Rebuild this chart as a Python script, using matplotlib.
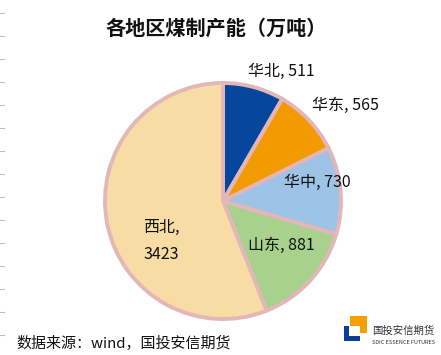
import matplotlib
matplotlib.use("Agg")
import matplotlib.pyplot as plt
from matplotlib.patches import Rectangle
from matplotlib.lines import Line2D

plt.rcParams['font.family'] = ['Noto Sans CJK SC', 'DejaVu Sans']

regions = ["华北", "华东", "华中", "山东", "西北"]
capacity = [511, 565, 730, 881, 3423]
colors = ["#06469C", "#F39A00", "#9DC3E6", "#A9D18E", "#F8DCA6"]

W, H = 441, 355
fig = plt.figure(figsize=(W / 100, H / 100), dpi=100)


def fx(x):
    return x / W


def fy(y):
    return 1 - y / H


# pie centre ~ (223, 201) px, radius ~118 px
ax = fig.add_axes([fx(105), fy(319), fx(236), 236 / H])
wedges, _ = ax.pie(capacity, colors=colors, startangle=90, counterclock=False,
                   wedgeprops=dict(edgecolor="#E3B7B7", linewidth=2.8, clip_on=False))
ax.set_xlim(-1, 1)
ax.set_ylim(-1, 1)
ax.set_aspect("equal")
ax.axis("off")

# labels
label_pos = [(281, 71, "center"), (346, 105, "center"), (317, 182, "center"),
             (281, 245, "center"), (143, 241, "left")]
for (x, y, ha), name, val in zip(label_pos, regions, capacity):
    if name == "西北":
        txt = f"{name},\n{val}"
    else:
        txt = f"{name}, {val}"
    fig.text(fx(x), fy(y), txt, ha=ha, va="center", fontsize=11.5,
             color="#111111", linespacing=1.75)

fig.text(fx(216), fy(28), "各地区煤制产能（万吨）", ha="center", va="center",
         fontsize=14.5, fontweight="bold", color="#111111")

fig.text(fx(16), fy(343), "数据来源：wind，国投安信期货", ha="left", va="center",
         fontsize=10.8, color="#111111")

# left edge tick marks
for i in range(15):
    y = 13 + i * 23
    fig.add_artist(Line2D([0, fx(4)], [fy(y), fy(y)], color="#BFBFBF", lw=0.8))

# logo
def rect(x0, y0, x1, y1, c):
    fig.add_artist(Rectangle((fx(x0), fy(y1)), fx(x1 - x0), (y1 - y0) / H,
                             facecolor=c, edgecolor="none", transform=fig.transFigure))


rect(350, 316, 367, 333, "#F5A000")
rect(350, 326, 360, 336, "white")
rect(344, 326, 349, 341, "#0B3F95")
rect(344, 336, 360, 341, "#0B3F95")
fig.text(fx(372), fy(331), "国投安信期货", ha="left", va="center", fontsize=7.5,
         color="#333333")
fig.text(fx(372), fy(343), "SDIC ESSENCE FUTURES", ha="left", va="center",
         fontsize=4, color="#333333")

fig.savefig("out.png", dpi=100)
